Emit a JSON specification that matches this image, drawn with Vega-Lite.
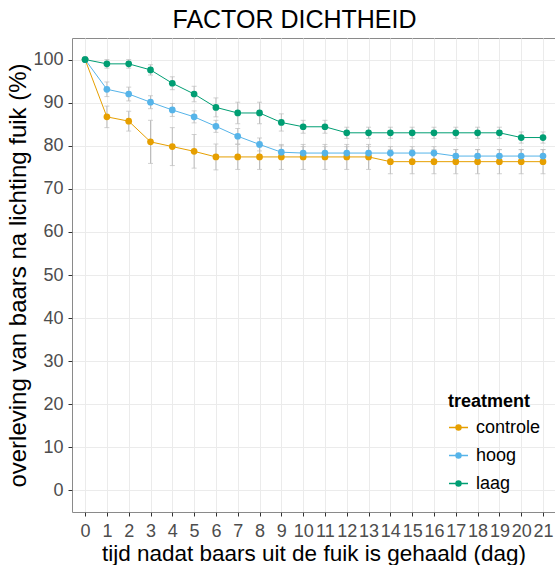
{
  "$schema": "https://vega.github.io/schema/vega-lite/v6.json",
  "autosize": {"type": "none"},
  "padding": {"left": 72, "top": 38, "right": 0, "bottom": 53},
  "width": 483,
  "height": 474,
  "background": "white",
  "title": {"text": "FACTOR DICHTHEID", "fontSize": 25, "font": "Liberation Sans", "fontWeight": "normal", "color": "black", "anchor": "middle", "dx": -19, "offset": 5},
  "config": {
    "font": "Liberation Sans",
    "view": {"stroke": "#8a8a8a", "strokeWidth": 1},
    "axis": {"labelFont": "Liberation Sans", "titleFont": "Liberation Sans", "labelFontSize": 18, "labelColor": "#4d4d4d", "titleFontSize": 22, "titleFontWeight": "normal", "titleColor": "black", "domain": false, "tickColor": "#333333", "tickSize": 4, "gridColor": "#ebebeb", "gridWidth": 1},
    "legend": {"labelFont": "Liberation Sans", "titleFont": "Liberation Sans"}
  },
  "data": {"values": [
    {"day": 0, "treatment": "controle", "mean": 100, "lo": 100, "hi": 100},
    {"day": 1, "treatment": "controle", "mean": 86.7, "lo": 84.2, "hi": 89.2},
    {"day": 2, "treatment": "controle", "mean": 85.7, "lo": 83.4, "hi": 88.0},
    {"day": 3, "treatment": "controle", "mean": 80.9, "lo": 75.9, "hi": 85.9},
    {"day": 4, "treatment": "controle", "mean": 79.8, "lo": 75.4, "hi": 84.2},
    {"day": 5, "treatment": "controle", "mean": 78.7, "lo": 74.8, "hi": 82.6},
    {"day": 6, "treatment": "controle", "mean": 77.4, "lo": 74.4, "hi": 80.4},
    {"day": 7, "treatment": "controle", "mean": 77.4, "lo": 74.5, "hi": 80.3},
    {"day": 8, "treatment": "controle", "mean": 77.4, "lo": 74.5, "hi": 80.3},
    {"day": 9, "treatment": "controle", "mean": 77.4, "lo": 74.5, "hi": 80.3},
    {"day": 10, "treatment": "controle", "mean": 77.4, "lo": 74.5, "hi": 80.3},
    {"day": 11, "treatment": "controle", "mean": 77.4, "lo": 74.5, "hi": 80.3},
    {"day": 12, "treatment": "controle", "mean": 77.4, "lo": 74.5, "hi": 80.3},
    {"day": 13, "treatment": "controle", "mean": 77.4, "lo": 74.5, "hi": 80.3},
    {"day": 14, "treatment": "controle", "mean": 76.3, "lo": 73.5, "hi": 79.1},
    {"day": 15, "treatment": "controle", "mean": 76.3, "lo": 73.5, "hi": 79.1},
    {"day": 16, "treatment": "controle", "mean": 76.3, "lo": 73.5, "hi": 79.1},
    {"day": 17, "treatment": "controle", "mean": 76.3, "lo": 73.5, "hi": 79.1},
    {"day": 18, "treatment": "controle", "mean": 76.3, "lo": 73.5, "hi": 79.1},
    {"day": 19, "treatment": "controle", "mean": 76.3, "lo": 73.5, "hi": 79.1},
    {"day": 20, "treatment": "controle", "mean": 76.3, "lo": 73.5, "hi": 79.1},
    {"day": 21, "treatment": "controle", "mean": 76.3, "lo": 73.5, "hi": 79.1},
    {"day": 0, "treatment": "hoog", "mean": 100, "lo": 100, "hi": 100},
    {"day": 1, "treatment": "hoog", "mean": 93.1, "lo": 91.4, "hi": 94.8},
    {"day": 2, "treatment": "hoog", "mean": 92.0, "lo": 90.4, "hi": 93.6},
    {"day": 3, "treatment": "hoog", "mean": 90.1, "lo": 88.6, "hi": 91.6},
    {"day": 4, "treatment": "hoog", "mean": 88.3, "lo": 86.8, "hi": 89.8},
    {"day": 5, "treatment": "hoog", "mean": 86.7, "lo": 85.3, "hi": 88.1},
    {"day": 6, "treatment": "hoog", "mean": 84.5, "lo": 83.1, "hi": 85.9},
    {"day": 7, "treatment": "hoog", "mean": 82.2, "lo": 80.4, "hi": 84.0},
    {"day": 8, "treatment": "hoog", "mean": 80.3, "lo": 78.8, "hi": 81.8},
    {"day": 9, "treatment": "hoog", "mean": 78.5, "lo": 77.0, "hi": 80.0},
    {"day": 10, "treatment": "hoog", "mean": 78.3, "lo": 76.8, "hi": 79.8},
    {"day": 11, "treatment": "hoog", "mean": 78.3, "lo": 76.8, "hi": 79.8},
    {"day": 12, "treatment": "hoog", "mean": 78.3, "lo": 76.8, "hi": 79.8},
    {"day": 13, "treatment": "hoog", "mean": 78.3, "lo": 76.8, "hi": 79.8},
    {"day": 14, "treatment": "hoog", "mean": 78.3, "lo": 76.8, "hi": 79.8},
    {"day": 15, "treatment": "hoog", "mean": 78.3, "lo": 76.8, "hi": 79.8},
    {"day": 16, "treatment": "hoog", "mean": 78.3, "lo": 76.8, "hi": 79.8},
    {"day": 17, "treatment": "hoog", "mean": 77.6, "lo": 76.1, "hi": 79.1},
    {"day": 18, "treatment": "hoog", "mean": 77.6, "lo": 76.1, "hi": 79.1},
    {"day": 19, "treatment": "hoog", "mean": 77.6, "lo": 76.1, "hi": 79.1},
    {"day": 20, "treatment": "hoog", "mean": 77.6, "lo": 76.1, "hi": 79.1},
    {"day": 21, "treatment": "hoog", "mean": 77.6, "lo": 76.1, "hi": 79.1},
    {"day": 0, "treatment": "laag", "mean": 100, "lo": 100, "hi": 100},
    {"day": 1, "treatment": "laag", "mean": 99.0, "lo": 98.0, "hi": 100.0},
    {"day": 2, "treatment": "laag", "mean": 99.0, "lo": 98.0, "hi": 100.0},
    {"day": 3, "treatment": "laag", "mean": 97.6, "lo": 96.4, "hi": 98.8},
    {"day": 4, "treatment": "laag", "mean": 94.5, "lo": 93.0, "hi": 96.0},
    {"day": 5, "treatment": "laag", "mean": 92.0, "lo": 90.2, "hi": 93.8},
    {"day": 6, "treatment": "laag", "mean": 88.9, "lo": 86.7, "hi": 91.1},
    {"day": 7, "treatment": "laag", "mean": 87.6, "lo": 85.1, "hi": 90.1},
    {"day": 8, "treatment": "laag", "mean": 87.6, "lo": 85.1, "hi": 90.1},
    {"day": 9, "treatment": "laag", "mean": 85.4, "lo": 83.4, "hi": 87.4},
    {"day": 10, "treatment": "laag", "mean": 84.4, "lo": 82.9, "hi": 85.9},
    {"day": 11, "treatment": "laag", "mean": 84.4, "lo": 82.9, "hi": 85.9},
    {"day": 12, "treatment": "laag", "mean": 83.0, "lo": 81.7, "hi": 84.3},
    {"day": 13, "treatment": "laag", "mean": 83.0, "lo": 81.7, "hi": 84.3},
    {"day": 14, "treatment": "laag", "mean": 83.0, "lo": 81.7, "hi": 84.3},
    {"day": 15, "treatment": "laag", "mean": 83.0, "lo": 81.7, "hi": 84.3},
    {"day": 16, "treatment": "laag", "mean": 83.0, "lo": 81.7, "hi": 84.3},
    {"day": 17, "treatment": "laag", "mean": 83.0, "lo": 81.7, "hi": 84.3},
    {"day": 18, "treatment": "laag", "mean": 83.0, "lo": 81.7, "hi": 84.3},
    {"day": 19, "treatment": "laag", "mean": 83.0, "lo": 81.7, "hi": 84.3},
    {"day": 20, "treatment": "laag", "mean": 81.9, "lo": 80.6, "hi": 83.2},
    {"day": 21, "treatment": "laag", "mean": 81.9, "lo": 80.6, "hi": 83.2}
  ]},
  "encoding": {
    "x": {"field": "day", "type": "quantitative",
      "scale": {"domain": [-0.6, 21.55], "nice": false, "zero": false},
      "axis": {"values": [0,1,2,3,4,5,6,7,8,9,10,11,12,13,14,15,16,17,18,19,20,21], "labelPadding": 6, "titlePadding": 2, "titleFontSize": 22.5, "labelFlush": false, "labelOverlap": false, "labelBound": false,
        "title": "tijd nadat baars uit de fuik is gehaald (dag)"}}
  },
  "layer": [
    {
      "mark": {"type": "errorbar", "ticks": {"size": 5, "color": "#bdbdbd"}, "color": "#bdbdbd", "thickness": 1},
      "encoding": {
        "y": {"field": "lo", "type": "quantitative",
          "scale": {"domain": [-5, 105], "nice": false, "zero": false},
          "axis": {"values": [0,5,10,15,20,25,30,35,40,45,50,55,60,65,70,75,80,85,90,95,100],
            "labelExpr": "datum.value % 10 === 0 ? datum.label : ''",
            "tickOpacity": {"condition": {"test": "datum.value % 10 !== 0", "value": 0}, "value": 1},
            "gridColor": {"condition": {"test": "datum.value % 10 !== 0", "value": "#f2f2f2"}, "value": "#ebebeb"},
            "gridWidth": {"condition": {"test": "datum.value % 10 !== 0", "value": 0.6}, "value": 1},
            "labelPadding": 5, "titlePadding": 2, "titleFontSize": 24,
            "title": "overleving van baars na lichting fuik (%)"}},
        "y2": {"field": "hi"}
      }
    },
    {
      "mark": {"type": "line", "strokeWidth": 1},
      "encoding": {
        "y": {"field": "mean", "type": "quantitative"},
        "color": {"field": "treatment", "type": "nominal",
          "scale": {"domain": ["controle", "hoog", "laag"], "range": ["#E69F00", "#56B4E9", "#009E73"]}}
      }
    },
    {
      "mark": {"type": "point", "filled": true, "opacity": 1, "size": 45, "shape": "circle"},
      "encoding": {
        "y": {"field": "mean", "type": "quantitative"},
        "color": {"field": "treatment", "type": "nominal",
          "legend": {"orient": "none", "legendX": 376, "legendY": 355, "padding": 0,
            "title": "treatment", "titleFontSize": 18, "titleFontWeight": "bold", "titleColor": "black", "titlePadding": 6,
            "labelFontSize": 18, "labelColor": "black", "labelOffset": 7, "rowPadding": 8,
            "symbolType": "M-1,0L1,0M-0.26,0A0.26,0.26,0,1,0,0.26,0A0.26,0.26,0,1,0,-0.26,0Z",
            "symbolSize": 361, "symbolStrokeWidth": 1.5, "symbolOpacity": 1,
            "encode": {"symbols": {"update": {"stroke": {"scale": "color", "field": "value"}, "fill": {"scale": "color", "field": "value"}}}}}}
      }
    }
  ]
}
